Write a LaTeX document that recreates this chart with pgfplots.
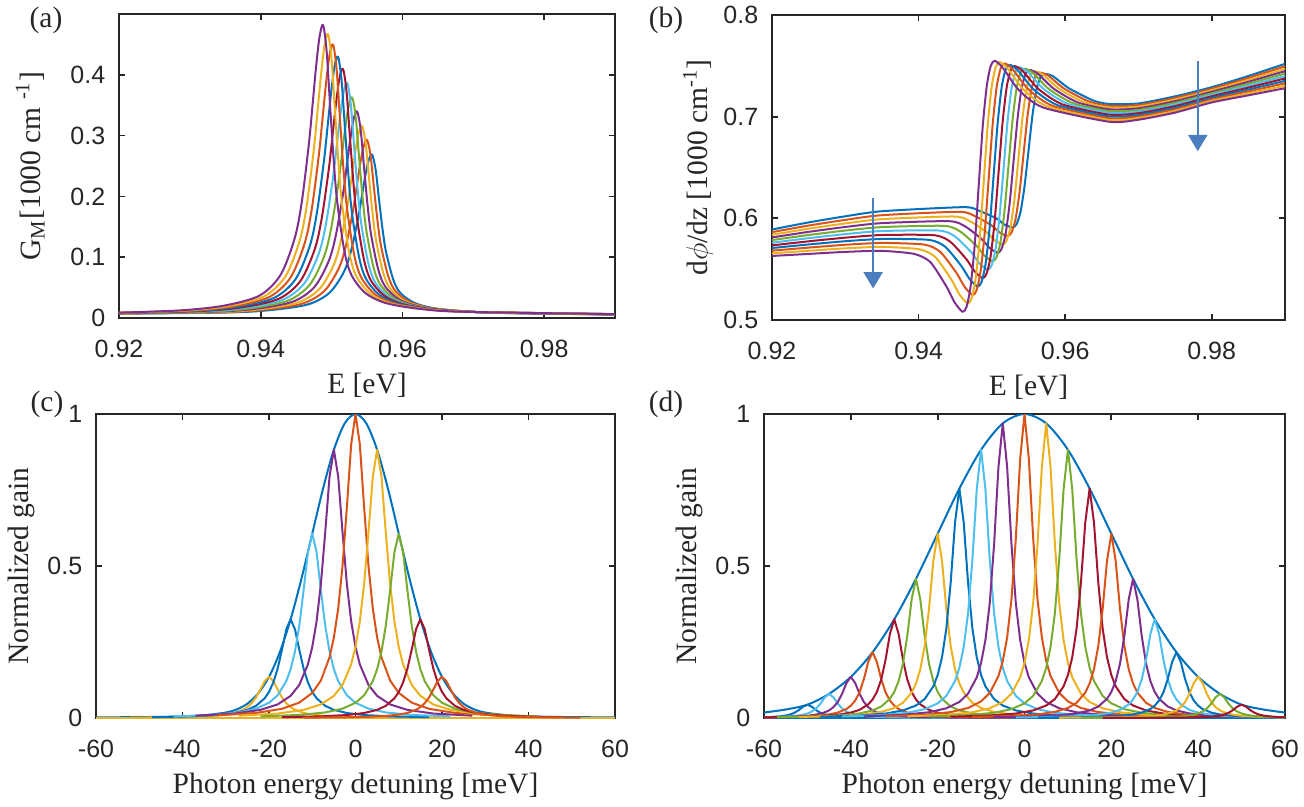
\documentclass[border=0pt]{standalone}
\usepackage{fontspec}
\setmainfont{Liberation Serif}
\newfontfamily\tickfont{Liberation Sans}
\usepackage{pgfplots}
\pgfplotsset{compat=1.18}
\usetikzlibrary{arrows.meta}

% MATLAB default colour order
\definecolor{c1}{RGB}{0,114,189}
\definecolor{c2}{RGB}{217,83,25}
\definecolor{c3}{RGB}{237,177,32}
\definecolor{c4}{RGB}{126,47,142}
\definecolor{c5}{RGB}{119,172,48}
\definecolor{c6}{RGB}{77,190,238}
\definecolor{c7}{RGB}{162,20,47}
\definecolor{axgray}{RGB}{38,38,38}
\definecolor{arrowblue}{RGB}{74,126,190}

\pgfplotsset{
  mlab/.style={
    scale only axis, anchor=south west, clip=true,
    axis line style={draw=axgray, line width=0.7pt},
    every tick/.style={draw=axgray, line width=0.7pt},
    tick align=inside, major tick length=2.4pt,
    xticklabel style={font=\tickfont\fontsize{10}{12}\selectfont, text=axgray, anchor=base, yshift=-15.6pt},
    yticklabel style={font=\tickfont\fontsize{10}{12}\selectfont, text=axgray, anchor=east, xshift=-2pt},
    xlabel style={font=\fontsize{11.8}{14}\selectfont, text=axgray, at={(axis description cs:0.5,0)}, anchor=base, yshift=-30pt},
    ylabel style={font=\fontsize{11.8}{14}\selectfont, text=axgray, anchor=center},
    /pgf/number format/assume math mode=true,
    every axis plot/.append style={line width=0.8pt, line join=round},
  }
}

\begin{document}
\begin{tikzpicture}
\useasboundingbox (0,0) rectangle (521.6pt,322.4pt);

% ---------------- (a) ----------------
\begin{axis}[mlab, at={(47.6pt,195.2pt)}, width=198.4pt, height=121.6pt,
  xmin=0.92, xmax=0.99, ymin=0, ymax=0.5,
  xtick={0.92,0.94,0.96,0.98}, xticklabels={0.92,0.94,0.96,0.98},
  ytick={0,0.1,0.2,0.3,0.4}, yticklabels={0,0.1,0.2,0.3,0.4},
  xlabel={E [eV]},
  ylabel={G\textsubscript{M}[1000 cm \textsuperscript{-1}]},
  ylabel style={at={(axis description cs:-0.179,0.5)}},
  every axis plot/.append style={smooth, tension=0.5},
]
\addplot[c1] coordinates {(0.92,.0071) (0.9357,.0092) (0.9417,.0134) (0.9467,.0225) (0.9497,.0414) (0.9517,.0749) (0.9527,.108) (0.9537,.1608) (0.9542,.1948) (0.9547,.230) (0.9552,.258) (0.9557,.269) (0.9562,.2455) (0.9567,.1948) (0.9572,.1455) (0.9577,.108) (0.9587,.0635) (0.9597,.0414) (0.9617,.0248) (0.9647,.0156) (0.9697,.0103) (0.9757,.0079) (0.99,.0058)};
\addplot[c2] coordinates {(0.92,.0073) (0.935,.0096) (0.941,.0142) (0.946,.0241) (0.949,.0447) (0.951,.0812) (0.952,.1174) (0.953,.175) (0.9535,.2121) (0.954,.2504) (0.9545,.281) (0.955,.293) (0.9555,.2674) (0.956,.2121) (0.9565,.1583) (0.957,.1174) (0.958,.0688) (0.959,.0447) (0.961,.0266) (0.964,.0165) (0.969,.0108) (0.975,.0082) (0.99,.0059)};
\addplot[c3] coordinates {(0.92,.0075) (0.9343,.010) (0.9403,.015) (0.9453,.0257) (0.9483,.0479) (0.9503,.0873) (0.9513,.1264) (0.9523,.1886) (0.9528,.2286) (0.9533,.270) (0.9538,.3031) (0.9543,.316) (0.9548,.2883) (0.9553,.2286) (0.9558,.1705) (0.9563,.1264) (0.9573,.0739) (0.9583,.0479) (0.9603,.0283) (0.9633,.0174) (0.9683,.0112) (0.9743,.0084) (0.99,.0059)};
\addplot[c4] coordinates {(0.92,.0077) (0.9336,.0104) (0.9396,.0157) (0.9446,.0272) (0.9476,.0512) (0.9496,.0937) (0.9506,.1357) (0.9516,.2027) (0.9521,.2459) (0.9526,.2905) (0.9531,.3261) (0.9536,.340) (0.9541,.3102) (0.9546,.2459) (0.9551,.1833) (0.9556,.1357) (0.9566,.0792) (0.9576,.0512) (0.9596,.0301) (0.9626,.0184) (0.9676,.0117) (0.9736,.0087) (0.99,.0060)};
\addplot[c5] coordinates {(0.92,.0079) (0.9329,.0107) (0.9389,.0165) (0.9439,.0288) (0.9469,.0544) (0.9489,.0998) (0.9499,.1447) (0.9509,.2163) (0.9514,.2624) (0.9519,.3101) (0.9524,.3481) (0.9529,.363) (0.9534,.3311) (0.9539,.2624) (0.9544,.1955) (0.9549,.1447) (0.9559,.0843) (0.9569,.0544) (0.9589,.0319) (0.9619,.0193) (0.9669,.0122) (0.9729,.0089) (0.99,.0061)};
\addplot[c6] coordinates {(0.92,.0081) (0.9322,.0111) (0.9382,.0172) (0.9432,.0304) (0.9462,.0577) (0.9482,.1061) (0.9492,.1541) (0.9502,.2305) (0.9507,.2797) (0.9512,.3305) (0.9517,.3711) (0.9522,.387) (0.9527,.353) (0.9532,.2797) (0.9537,.2083) (0.9542,.1541) (0.9552,.0896) (0.9562,.0577) (0.9582,.0337) (0.9612,.0203) (0.9662,.0126) (0.9722,.0092) (0.99,.0061)};
\addplot[c7] coordinates {(0.92,.0082) (0.9316,.0115) (0.9376,.018) (0.9426,.0319) (0.9456,.0608) (0.9476,.1122) (0.9486,.163) (0.9496,.244) (0.9501,.2962) (0.9506,.3501) (0.9511,.3932) (0.9516,.410) (0.9521,.374) (0.9526,.2962) (0.9531,.2205) (0.9536,.163) (0.9546,.0947) (0.9556,.0608) (0.9576,.0354) (0.9606,.0212) (0.9656,.0131) (0.9716,.0095) (0.99,.0062)};
\addplot[c1] coordinates {(0.92,.0084) (0.9309,.0118) (0.9369,.0186) (0.9419,.0332) (0.9449,.0636) (0.9469,.1175) (0.9479,.1708) (0.9489,.2558) (0.9494,.3106) (0.9499,.3671) (0.9504,.4123) (0.9509,.430) (0.9514,.3922) (0.9519,.3106) (0.9524,.2312) (0.9529,.1708) (0.9539,.0991) (0.9549,.0636) (0.9569,.0369) (0.9599,.022) (0.9649,.0135) (0.9709,.0097) (0.99,.0063)};
\addplot[c2] coordinates {(0.92,.0086) (0.9302,.0121) (0.9362,.0192) (0.9412,.0345) (0.9442,.0664) (0.9462,.1228) (0.9472,.1786) (0.9482,.2676) (0.9487,.325) (0.9492,.3842) (0.9497,.4315) (0.9502,.450) (0.9507,.4104) (0.9512,.325) (0.9517,.2418) (0.9522,.1786) (0.9532,.1036) (0.9542,.0664) (0.9562,.0384) (0.9592,.0228) (0.9642,.0139) (0.9702,.0099) (0.99,.0063)};
\addplot[c3] coordinates {(0.92,.0087) (0.9295,.0124) (0.9355,.0198) (0.9405,.0357) (0.9435,.0687) (0.9455,.1273) (0.9465,.1853) (0.9475,.2777) (0.948,.3372) (0.9485,.3987) (0.949,.4478) (0.9495,.467) (0.95,.4259) (0.9505,.3372) (0.951,.2509) (0.9515,.1853) (0.9525,.1073) (0.9535,.0687) (0.9555,.0397) (0.9585,.0235) (0.9635,.0142) (0.9695,.0101) (0.99,.0064)};
\addplot[c4] coordinates {(0.92,.0088) (0.9288,.0126) (0.9348,.0203) (0.9398,.0367) (0.9428,.0708) (0.9448,.1313) (0.9458,.1911) (0.9468,.2865) (0.9473,.348) (0.9478,.4115) (0.9483,.4622) (0.9488,.482) (0.9493,.4395) (0.9498,.348) (0.9503,.2589) (0.9508,.1911) (0.9518,.1107) (0.9528,.0708) (0.9548,.0408) (0.9578,.0241) (0.9628,.0145) (0.9688,.0102) (0.99,.0064)};
\end{axis}

% ---------------- (b) ----------------
\begin{axis}[mlab, at={(308.8pt,194.4pt)}, width=205.2pt, height=122pt,
  xmin=0.92, xmax=0.99, ymin=0.5, ymax=0.8,
  xtick={0.92,0.94,0.96,0.98}, xticklabels={0.92,0.94,0.96,0.98},
  ytick={0.5,0.6,0.7,0.8}, yticklabels={0.5,0.6,0.7,0.8},
  xlabel={E [eV]},
  ylabel={d$\phi$/dz [1000 cm\textsuperscript{-1}]},
  ylabel style={at={(axis description cs:-0.144,0.5)}},
  every axis plot/.append style={smooth, tension=0.4},
]
\addplot[c1] coordinates {(0.92,.589) (0.925,.596) (0.93,.602) (0.935,.607) (0.9462,.611) (0.9484,.607) (0.9506,.600) (0.9517,.594) (0.9528,.591) (0.95335,.594) (0.9539,.606) (0.95445,.631) (0.955,.6665) (0.95555,.702) (0.9561,.727) (0.95665,.739) (0.9572,.742) (0.9583,.740) (0.9605,.728) (0.9638,.716) (0.966,.7125) (0.97,.713) (0.975,.720) (0.98,.729) (0.985,.740) (0.99,.752)};
\addplot[c2] coordinates {(0.92,.5864) (0.925,.5929) (0.93,.5985) (0.935,.6031) (0.94552,.6064) (0.94772,.602) (0.94992,.5933) (0.95102,.5864) (0.95212,.5827) (0.95267,.5859) (0.95322,.5987) (0.95377,.6252) (0.95432,.663) (0.95487,.7008) (0.95542,.7273) (0.95597,.7401) (0.95652,.7433) (0.95762,.7408) (0.95982,.7278) (0.96312,.7153) (0.966,.71075) (0.97,.7114) (0.975,.7184) (0.98,.7275) (0.985,.7381) (0.99,.7496)};
\addplot[c3] coordinates {(0.92,.5838) (0.925,.5898) (0.93,.595) (0.935,.5992) (0.94484,.6018) (0.94704,.597) (0.94924,.5866) (0.95034,.5787) (0.95144,.5744) (0.95199,.5778) (0.95254,.5914) (0.95309,.6194) (0.95364,.6595) (0.95419,.6996) (0.95474,.7276) (0.95529,.7412) (0.95584,.7446) (0.95694,.7416) (0.95914,.7276) (0.96244,.7146) (0.966,.709) (0.97,.7098) (0.975,.7168) (0.98,.726) (0.985,.7362) (0.99,.7472)};
\addplot[c4] coordinates {(0.92,.5812) (0.925,.5867) (0.93,.5915) (0.935,.5953) (0.94416,.5972) (0.94636,.592) (0.94856,.5799) (0.94966,.5711) (0.95076,.5661) (0.95131,.5697) (0.95186,.5841) (0.95241,.6136) (0.95296,.656) (0.95351,.6984) (0.95406,.7279) (0.95461,.7423) (0.95516,.7459) (0.95626,.7424) (0.95846,.7274) (0.96176,.7139) (0.966,.70725) (0.97,.7082) (0.975,.7152) (0.98,.7245) (0.985,.7343) (0.99,.7448)};
\addplot[c5] coordinates {(0.92,.5786) (0.925,.5836) (0.93,.588) (0.935,.5914) (0.94348,.5926) (0.94568,.587) (0.94788,.5732) (0.94898,.5634) (0.95008,.5578) (0.95063,.5616) (0.95118,.5768) (0.95173,.6078) (0.95228,.6525) (0.95283,.6972) (0.95338,.7282) (0.95393,.7434) (0.95448,.7472) (0.95558,.7432) (0.95778,.7272) (0.96108,.7132) (0.966,.7055) (0.97,.7066) (0.975,.7136) (0.98,.723) (0.985,.7324) (0.99,.7424)};
\addplot[c6] coordinates {(0.92,.576) (0.925,.5805) (0.93,.5845) (0.935,.5875) (0.9428,.588) (0.945,.582) (0.9472,.5665) (0.9483,.5558) (0.9494,.5495) (0.94995,.5535) (0.9505,.5695) (0.95105,.602) (0.9516,.649) (0.95215,.696) (0.9527,.7285) (0.95325,.7445) (0.9538,.7485) (0.9549,.744) (0.9571,.727) (0.9604,.7125) (0.966,.70375) (0.97,.705) (0.975,.712) (0.98,.7215) (0.985,.7305) (0.99,.740)};
\addplot[c7] coordinates {(0.92,.5734) (0.925,.5774) (0.93,.581) (0.935,.5836) (0.94212,.5834) (0.94432,.577) (0.94652,.5598) (0.94762,.5481) (0.94872,.5412) (0.94927,.5454) (0.94982,.5622) (0.95037,.5962) (0.95092,.6455) (0.95147,.6948) (0.95202,.7288) (0.95257,.7456) (0.95312,.7498) (0.95422,.7448) (0.95642,.7268) (0.95972,.7118) (0.966,.702) (0.97,.7034) (0.975,.7104) (0.98,.72) (0.985,.7286) (0.99,.7376)};
\addplot[c1] coordinates {(0.92,.5708) (0.925,.5743) (0.93,.5775) (0.935,.5797) (0.94144,.5788) (0.94364,.572) (0.94584,.5531) (0.94694,.5405) (0.94804,.5329) (0.94859,.5373) (0.94914,.5549) (0.94969,.5904) (0.95024,.642) (0.95079,.6936) (0.95134,.7291) (0.95189,.7467) (0.95244,.7511) (0.95354,.7456) (0.95574,.7266) (0.95904,.7111) (0.966,.70025) (0.97,.7018) (0.975,.7088) (0.98,.7185) (0.985,.7267) (0.99,.7352)};
\addplot[c2] coordinates {(0.92,.5682) (0.925,.5712) (0.93,.574) (0.935,.5758) (0.94076,.5742) (0.94296,.567) (0.94516,.5464) (0.94626,.5328) (0.94736,.5246) (0.94791,.5292) (0.94846,.5476) (0.94901,.5846) (0.94956,.6385) (0.95011,.6924) (0.95066,.7294) (0.95121,.7478) (0.95176,.7524) (0.95286,.7464) (0.95506,.7264) (0.95836,.7104) (0.966,.6985) (0.97,.7002) (0.975,.7072) (0.98,.717) (0.985,.7248) (0.99,.7328)};
\addplot[c3] coordinates {(0.92,.5656) (0.925,.5681) (0.93,.5705) (0.935,.5719) (0.94008,.5696) (0.94228,.562) (0.94448,.5397) (0.94558,.5252) (0.94668,.5163) (0.94723,.5211) (0.94778,.5403) (0.94833,.5788) (0.94888,.635) (0.94943,.6912) (0.94998,.7297) (0.95053,.7489) (0.95108,.7537) (0.95218,.7472) (0.95438,.7262) (0.95768,.7097) (0.966,.69675) (0.97,.6986) (0.975,.7056) (0.98,.7155) (0.985,.7229) (0.99,.7304)};
\addplot[c4] coordinates {(0.92,.563) (0.925,.565) (0.93,.567) (0.935,.568) (0.9394,.565) (0.9416,.557) (0.9438,.533) (0.9449,.5175) (0.946,.508) (0.94655,.513) (0.9471,.533) (0.94765,.573) (0.9482,.6315) (0.94875,.690) (0.9493,.730) (0.94985,.750) (0.9504,.755) (0.9515,.748) (0.9537,.726) (0.957,.709) (0.966,.695) (0.97,.697) (0.975,.704) (0.98,.714) (0.985,.721) (0.99,.728)};
\draw[arrowblue, line width=1pt, -{Triangle[width=7.5pt,length=6.5pt]}] (axis cs:0.9338,0.62) -- (axis cs:0.9338,0.531);
\draw[arrowblue, line width=1pt, -{Triangle[width=7.5pt,length=6.5pt]}] (axis cs:0.9781,0.755) -- (axis cs:0.9781,0.666);
\end{axis}

% ---------------- (c) ----------------
\begin{axis}[mlab, at={(38.4pt,35.2pt)}, width=207.6pt, height=121.6pt,
  xmin=-60, xmax=60, ymin=0, ymax=1,
  xtick={-60,-40,-20,0,20,40,60}, xticklabels={-60,-40,-20,0,20,40,60},
  ytick={0,0.5,1}, yticklabels={0,0.5,1},
  xlabel={Photon energy detuning [meV]},
  ylabel={Normalized gain},
  ylabel style={at={(axis description cs:-0.143,0.5)}},
]
\addplot[c1, smooth] coordinates {(-60,.002) (-50,.003) (-40,.005) (-35,.009) (-30,.018) (-27.5,.028) (-25,.047) (-22.5,.081) (-20,.1353) (-17.5,.2163) (-15,.3247) (-12.5,.4578) (-10,.6065) (-7.5,.7548) (-5,.8825) (-2.5,.9692) (0,1) (2.5,.9692) (5,.8825) (7.5,.7548) (10,.6065) (12.5,.4578) (15,.3247) (17.5,.2163) (20,.1353) (22.5,.081) (25,.047) (27.5,.028) (30,.018) (35,.009) (40,.005) (50,.003) (60,.002)};
\addplot[c2] coordinates {(-60,.0005) (60,.0005)};
\addplot[c3] coordinates {(-60,.0015) (60,.0015)};
\addplot[c3] coordinates {(-52,.0012) (-43,.0023) (-37,.0041) (-33,.0068) (-30,.0112) (-28,.0167) (-26,.0271) (-25,.0358) (-24,.0487) (-23,.0677) (-22,.0937) (-21,.1218) (-20,.1353) (-19,.1218) (-18,.0937) (-17,.0677) (-16,.0487) (-15,.0358) (-14,.0271) (-12,.0167) (-10,.0112) (-7,.0068) (-3,.0041) (3,.0023) (12,.0012)};
\addplot[c1] coordinates {(-47,.0028) (-38,.0054) (-32,.0098) (-28,.0164) (-25,.0268) (-23,.04) (-21,.0649) (-20,.0859) (-19,.1169) (-18,.1624) (-17,.2248) (-16,.2922) (-15,.3247) (-14,.2922) (-13,.2248) (-12,.1624) (-11,.1169) (-10,.0859) (-9,.0649) (-7,.04) (-5,.0268) (-2,.0164) (2,.0098) (8,.0054) (17,.0028)};
\addplot[c6] coordinates {(-42,.0053) (-33,.0101) (-27,.0183) (-23,.0307) (-20,.0501) (-18,.0748) (-16,.1213) (-15,.1605) (-14,.2183) (-13,.3033) (-12,.4199) (-11,.5459) (-10,.6065) (-9,.5459) (-8,.4199) (-7,.3033) (-6,.2183) (-5,.1605) (-4,.1213) (-2,.0748) (0,.0501) (3,.0307) (7,.0183) (13,.0101) (22,.0053)};
\addplot[c4] coordinates {(-37,.0077) (-28,.0147) (-22,.0267) (-18,.0447) (-15,.0729) (-13,.1088) (-11,.1765) (-10,.2336) (-9,.3177) (-8,.4413) (-7,.611) (-6,.7943) (-5,.8825) (-4,.7943) (-3,.611) (-2,.4413) (-1,.3177) (0,.2336) (1,.1765) (3,.1088) (5,.0729) (8,.0447) (12,.0267) (18,.0147) (27,.0077)};
\addplot[c2] coordinates {(-32,.0087) (-23,.0167) (-17,.0302) (-13,.0506) (-10,.0826) (-8,.1233) (-6,.2) (-5,.2647) (-4,.36) (-3,.5) (-2,.6923) (-1,.9) (0,1) (1,.9) (2,.6923) (3,.5) (4,.36) (5,.2647) (6,.2) (8,.1233) (10,.0826) (13,.0506) (17,.0302) (23,.0167) (32,.0087)};
\addplot[c3] coordinates {(-27,.0077) (-18,.0147) (-12,.0267) (-8,.0447) (-5,.0729) (-3,.1088) (-1,.1765) (0,.2336) (1,.3177) (2,.4413) (3,.611) (4,.7943) (5,.8825) (6,.7943) (7,.611) (8,.4413) (9,.3177) (10,.2336) (11,.1765) (13,.1088) (15,.0729) (18,.0447) (22,.0267) (28,.0147) (37,.0077)};
\addplot[c5] coordinates {(-22,.0053) (-13,.0101) (-7,.0183) (-3,.0307) (0,.0501) (2,.0748) (4,.1213) (5,.1605) (6,.2183) (7,.3033) (8,.4199) (9,.5459) (10,.6065) (11,.5459) (12,.4199) (13,.3033) (14,.2183) (15,.1605) (16,.1213) (18,.0748) (20,.0501) (23,.0307) (27,.0183) (33,.0101) (42,.0053)};
\addplot[c7] coordinates {(-17,.0028) (-8,.0054) (-2,.0098) (2,.0164) (5,.0268) (7,.04) (9,.0649) (10,.0859) (11,.1169) (12,.1624) (13,.2248) (14,.2922) (15,.3247) (16,.2922) (17,.2248) (18,.1624) (19,.1169) (20,.0859) (21,.0649) (23,.04) (25,.0268) (28,.0164) (32,.0098) (38,.0054) (47,.0028)};
\addplot[c2] coordinates {(-12,.0012) (-3,.0023) (3,.0041) (7,.0068) (10,.0112) (12,.0167) (14,.0271) (15,.0358) (16,.0487) (17,.0677) (18,.0937) (19,.1218) (20,.1353) (21,.1218) (22,.0937) (23,.0677) (24,.0487) (25,.0358) (26,.0271) (28,.0167) (30,.0112) (33,.0068) (37,.0041) (43,.0023) (52,.0012)};
\end{axis}

% ---------------- (d) ----------------
\begin{axis}[mlab, at={(305.6pt,35.2pt)}, width=208.4pt, height=121.6pt,
  xmin=-60, xmax=60, ymin=0, ymax=1,
  xtick={-60,-40,-20,0,20,40,60}, xticklabels={-60,-40,-20,0,20,40,60},
  ytick={0,0.5,1}, yticklabels={0,0.5,1},
  xlabel={Photon energy detuning [meV]},
  ylabel={Normalized gain},
  ylabel style={at={(axis description cs:-0.144,0.5)}},
]
\addplot[c1, smooth] coordinates {(-60,.018) (-55,.028) (-50,.0439) (-45,.0796) (-40,.1353) (-35,.2163) (-30,.3247) (-25,.4578) (-20,.6065) (-15,.7548) (-10,.8825) (-5,.9692) (0,1) (5,.9692) (10,.8825) (15,.7548) (20,.6065) (25,.4578) (30,.3247) (35,.2163) (40,.1353) (45,.0796) (50,.0439) (55,.028) (60,.018)};
\addplot[c1] coordinates {(-60,.0012) (60,.0012)};
\addplot[c1] coordinates {(-82,.0002) (-73,.0005) (-67,.0009) (-63,.0014) (-60,.0024) (-58,.0036) (-56,.0061) (-55,.0082) (-54,.0116) (-53,.0171) (-52,.0259) (-51,.0374) (-50,.0439) (-49,.0374) (-48,.0259) (-47,.0171) (-46,.0116) (-45,.0082) (-44,.0061) (-42,.0036) (-40,.0024) (-37,.0014) (-33,.0009) (-27,.0005) (-18,.0002)};
\addplot[c6] coordinates {(-77,.0004) (-68,.0009) (-62,.0016) (-58,.0026) (-55,.0043) (-53,.0066) (-51,.011) (-50,.0149) (-49,.0211) (-48,.0311) (-47,.047) (-46,.0678) (-45,.0796) (-44,.0678) (-43,.047) (-42,.0311) (-41,.0211) (-40,.0149) (-39,.011) (-37,.0066) (-35,.0043) (-32,.0026) (-28,.0016) (-22,.0009) (-13,.0004)};
\addplot[c4] coordinates {(-72,.0008) (-63,.0015) (-57,.0026) (-53,.0045) (-50,.0074) (-48,.0112) (-46,.0187) (-45,.0253) (-44,.0358) (-43,.0528) (-42,.0799) (-41,.1153) (-40,.1353) (-39,.1153) (-38,.0799) (-37,.0528) (-36,.0358) (-35,.0253) (-34,.0187) (-32,.0112) (-30,.0074) (-27,.0045) (-23,.0026) (-17,.0015) (-8,.0008)};
\addplot[c2] coordinates {(-67,.0012) (-58,.0023) (-52,.0042) (-48,.0071) (-45,.0118) (-43,.0179) (-41,.0298) (-40,.0405) (-39,.0573) (-38,.0844) (-37,.1277) (-36,.1843) (-35,.2163) (-34,.1843) (-33,.1277) (-32,.0844) (-31,.0573) (-30,.0405) (-29,.0298) (-27,.0179) (-25,.0118) (-22,.0071) (-18,.0042) (-12,.0023) (-3,.0012)};
\addplot[c7] coordinates {(-62,.0018) (-53,.0035) (-47,.0063) (-43,.0107) (-40,.0177) (-38,.0268) (-36,.0448) (-35,.0608) (-34,.0859) (-33,.1267) (-32,.1916) (-31,.2767) (-30,.3247) (-29,.2767) (-28,.1916) (-27,.1267) (-26,.0859) (-25,.0608) (-24,.0448) (-22,.0268) (-20,.0177) (-17,.0107) (-13,.0063) (-7,.0035) (2,.0018)};
\addplot[c5] coordinates {(-57,.0026) (-48,.0049) (-42,.0089) (-38,.0151) (-35,.0249) (-33,.0378) (-31,.0631) (-30,.0857) (-29,.1212) (-28,.1786) (-27,.2702) (-26,.3901) (-25,.4578) (-24,.3901) (-23,.2702) (-22,.1786) (-21,.1212) (-20,.0857) (-19,.0631) (-17,.0378) (-15,.0249) (-12,.0151) (-8,.0089) (-2,.0049) (7,.0026)};
\addplot[c3] coordinates {(-52,.0034) (-43,.0066) (-37,.0118) (-33,.02) (-30,.0331) (-28,.0501) (-26,.0836) (-25,.1136) (-24,.1605) (-23,.2367) (-22,.358) (-21,.5168) (-20,.6065) (-19,.5168) (-18,.358) (-17,.2367) (-16,.1605) (-15,.1136) (-14,.0836) (-12,.0501) (-10,.0331) (-7,.02) (-3,.0118) (3,.0066) (12,.0034)};
\addplot[c1] coordinates {(-47,.0042) (-38,.0082) (-32,.0147) (-28,.0249) (-25,.0411) (-23,.0623) (-21,.1041) (-20,.1414) (-19,.1998) (-18,.2945) (-17,.4455) (-16,.6432) (-15,.7548) (-14,.6432) (-13,.4455) (-12,.2945) (-11,.1998) (-10,.1414) (-9,.1041) (-7,.0623) (-5,.0411) (-2,.0249) (2,.0147) (8,.0082) (17,.0042)};
\addplot[c6] coordinates {(-42,.0049) (-33,.0095) (-27,.0172) (-23,.0291) (-20,.0481) (-18,.0729) (-16,.1217) (-15,.1653) (-14,.2336) (-13,.3444) (-12,.5208) (-11,.752) (-10,.8825) (-9,.752) (-8,.5208) (-7,.3444) (-6,.2336) (-5,.1653) (-4,.1217) (-2,.0729) (0,.0481) (3,.0291) (7,.0172) (13,.0095) (22,.0049)};
\addplot[c4] coordinates {(-37,.0054) (-28,.0105) (-22,.0189) (-18,.032) (-15,.0528) (-13,.0801) (-11,.1337) (-10,.1815) (-9,.2565) (-8,.3782) (-7,.572) (-6,.8259) (-5,.9692) (-4,.8259) (-3,.572) (-2,.3782) (-1,.2565) (0,.1815) (1,.1337) (3,.0801) (5,.0528) (8,.032) (12,.0189) (18,.0105) (27,.0054)};
\addplot[c2] coordinates {(-32,.0056) (-23,.0108) (-17,.0195) (-13,.033) (-10,.0545) (-8,.0826) (-6,.1379) (-5,.1873) (-4,.2647) (-3,.3902) (-2,.5902) (-1,.8521) (0,1) (1,.8521) (2,.5902) (3,.3902) (4,.2647) (5,.1873) (6,.1379) (8,.0826) (10,.0545) (13,.033) (17,.0195) (23,.0108) (32,.0056)};
\addplot[c3] coordinates {(-27,.0054) (-18,.0105) (-12,.0189) (-8,.032) (-5,.0528) (-3,.0801) (-1,.1337) (0,.1815) (1,.2565) (2,.3782) (3,.572) (4,.8259) (5,.9692) (6,.8259) (7,.572) (8,.3782) (9,.2565) (10,.1815) (11,.1337) (13,.0801) (15,.0528) (18,.032) (22,.0189) (28,.0105) (37,.0054)};
\addplot[c5] coordinates {(-22,.0049) (-13,.0095) (-7,.0172) (-3,.0291) (0,.0481) (2,.0729) (4,.1217) (5,.1653) (6,.2336) (7,.3444) (8,.5208) (9,.752) (10,.8825) (11,.752) (12,.5208) (13,.3444) (14,.2336) (15,.1653) (16,.1217) (18,.0729) (20,.0481) (23,.0291) (27,.0172) (33,.0095) (42,.0049)};
\addplot[c7] coordinates {(-17,.0042) (-8,.0082) (-2,.0147) (2,.0249) (5,.0411) (7,.0623) (9,.1041) (10,.1414) (11,.1998) (12,.2945) (13,.4455) (14,.6432) (15,.7548) (16,.6432) (17,.4455) (18,.2945) (19,.1998) (20,.1414) (21,.1041) (23,.0623) (25,.0411) (28,.0249) (32,.0147) (38,.0082) (47,.0042)};
\addplot[c2] coordinates {(-12,.0034) (-3,.0066) (3,.0118) (7,.02) (10,.0331) (12,.0501) (14,.0836) (15,.1136) (16,.1605) (17,.2367) (18,.358) (19,.5168) (20,.6065) (21,.5168) (22,.358) (23,.2367) (24,.1605) (25,.1136) (26,.0836) (28,.0501) (30,.0331) (33,.02) (37,.0118) (43,.0066) (52,.0034)};
\addplot[c4] coordinates {(-7,.0026) (2,.0049) (8,.0089) (12,.0151) (15,.0249) (17,.0378) (19,.0631) (20,.0857) (21,.1212) (22,.1786) (23,.2702) (24,.3901) (25,.4578) (26,.3901) (27,.2702) (28,.1786) (29,.1212) (30,.0857) (31,.0631) (33,.0378) (35,.0249) (38,.0151) (42,.0089) (48,.0049) (57,.0026)};
\addplot[c6] coordinates {(-2,.0018) (7,.0035) (13,.0063) (17,.0107) (20,.0177) (22,.0268) (24,.0448) (25,.0608) (26,.0859) (27,.1267) (28,.1916) (29,.2767) (30,.3247) (31,.2767) (32,.1916) (33,.1267) (34,.0859) (35,.0608) (36,.0448) (38,.0268) (40,.0177) (43,.0107) (47,.0063) (53,.0035) (62,.0018)};
\addplot[c1] coordinates {(3,.0012) (12,.0023) (18,.0042) (22,.0071) (25,.0118) (27,.0179) (29,.0298) (30,.0405) (31,.0573) (32,.0844) (33,.1277) (34,.1843) (35,.2163) (36,.1843) (37,.1277) (38,.0844) (39,.0573) (40,.0405) (41,.0298) (43,.0179) (45,.0118) (48,.0071) (52,.0042) (58,.0023) (67,.0012)};
\addplot[c3] coordinates {(8,.0008) (17,.0015) (23,.0026) (27,.0045) (30,.0074) (32,.0112) (34,.0187) (35,.0253) (36,.0358) (37,.0528) (38,.0799) (39,.1153) (40,.1353) (41,.1153) (42,.0799) (43,.0528) (44,.0358) (45,.0253) (46,.0187) (48,.0112) (50,.0074) (53,.0045) (57,.0026) (63,.0015) (72,.0008)};
\addplot[c5] coordinates {(13,.0004) (22,.0009) (28,.0016) (32,.0026) (35,.0043) (37,.0066) (39,.011) (40,.0149) (41,.0211) (42,.0311) (43,.047) (44,.0678) (45,.0796) (46,.0678) (47,.047) (48,.0311) (49,.0211) (50,.0149) (51,.011) (53,.0066) (55,.0043) (58,.0026) (62,.0016) (68,.0009) (77,.0004)};
\addplot[c7] coordinates {(18,.0002) (27,.0005) (33,.0009) (37,.0014) (40,.0024) (42,.0036) (44,.0061) (45,.0082) (46,.0116) (47,.0171) (48,.0259) (49,.0374) (50,.0439) (51,.0374) (52,.0259) (53,.0171) (54,.0116) (55,.0082) (56,.0061) (58,.0036) (60,.0024) (63,.0014) (67,.0009) (73,.0005) (82,.0002)};
\end{axis}

% panel letters
\node[anchor=base, text=axgray, font=\fontsize{11.8}{14}\selectfont] at (18.4pt,311.6pt) {(a)};
\node[anchor=base, text=axgray, font=\fontsize{11.8}{14}\selectfont] at (266.4pt,311.6pt) {(b)};
\node[anchor=base, text=axgray, font=\fontsize{11.8}{14}\selectfont] at (18.8pt,157.7pt) {(c)};
\node[anchor=base, text=axgray, font=\fontsize{11.8}{14}\selectfont] at (266.4pt,157.7pt) {(d)};
\end{tikzpicture}
\end{document}
